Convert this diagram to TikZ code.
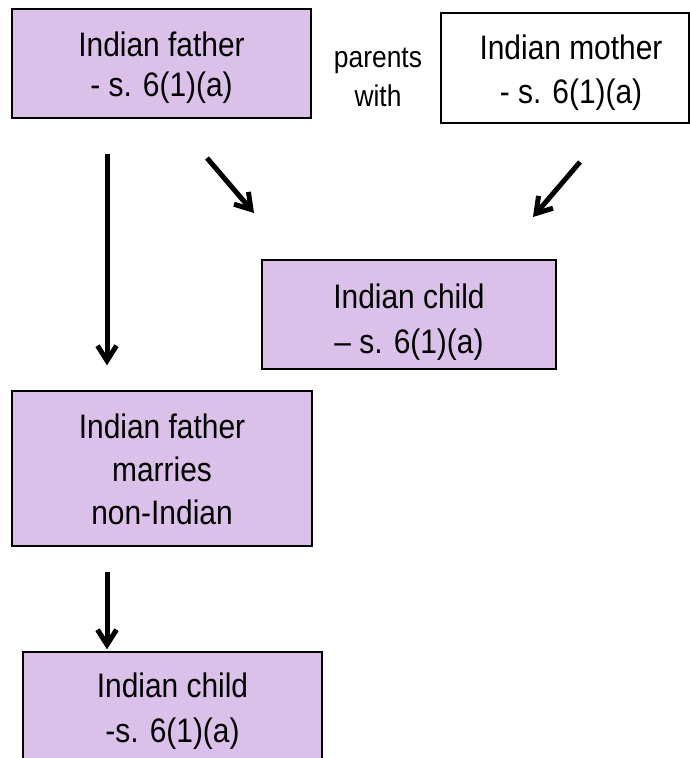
\documentclass[tikz,border=0pt]{standalone}
\usepackage{fontspec}
\setmainfont{Liberation Sans}[FakeStretch=0.88]
\usetikzlibrary{arrows.meta}
\definecolor{lilac}{RGB}{219,193,234}
\newcommand\tstrut[1][34pt]{\rule{0pt}{#1}}
\newcommand\bstrut{\rule[-8pt]{0pt}{8pt}}
\tikzset{
  box/.style={draw=black, line width=1.3pt, fill=lilac, inner sep=0pt, align=center},
  wbox/.style={box, fill=white},
  big/.style={font=\fontsize{34}{#1}\selectfont},
  arr/.style={line width=5pt, -{Straight Barb[length=15pt,width=19pt]}},
}
\begin{document}
\begin{tikzpicture}[x=1pt,y=-1pt]
\useasboundingbox (0,0) rectangle (690,758);
\node[box, big=40, minimum width=299pt, minimum height=109pt] (father) at (161.5,63.5)
  {\tstrut Indian father\\- s. 6(1)(a)\bstrut};
\node[wbox, big=44, minimum width=248pt, minimum height=110pt] (mother) at (565,68)
  {\hspace*{12pt}\tstrut Indian mother\\\hspace*{12pt}- s. 6(1)(a)\bstrut};
\node[align=center, inner sep=0pt, font=\fontsize{30}{39}\selectfont] (with) at (378,73.5)
  {\tstrut parents\\with\bstrut};
\node[box, big=45, minimum width=294pt, minimum height=109pt] (child) at (409,314.5)
  {\tstrut[40pt]Indian child\\– s. 6(1)(a)\bstrut};
\node[box, big=43, minimum width=300pt, minimum height=155pt] (marries) at (162,468.5)
  {\tstrut Indian father\\marries\\non-Indian\bstrut};
\node[box, big=45, minimum width=299pt, minimum height=110pt] (child2) at (172.5,707)
  {\tstrut Indian child\\-s. 6(1)(a)\bstrut};
\coordinate (vx) at (107,0);
\coordinate (fd1) at (207,158);
\coordinate (fd2) at (254,213);
\coordinate (md1) at (580,162);
\coordinate (md2) at (533,217);
\draw[arr, shorten <=35pt, shorten >=25pt] (father.south -| vx) -- (marries.north -| vx);
\draw[arr] (fd1) -- (fd2);
\draw[arr] (md1) -- (md2);
\draw[arr, shorten <=25pt, shorten >=2pt] (marries.south -| vx) -- (child2.north -| vx);
\end{tikzpicture}
\end{document}
